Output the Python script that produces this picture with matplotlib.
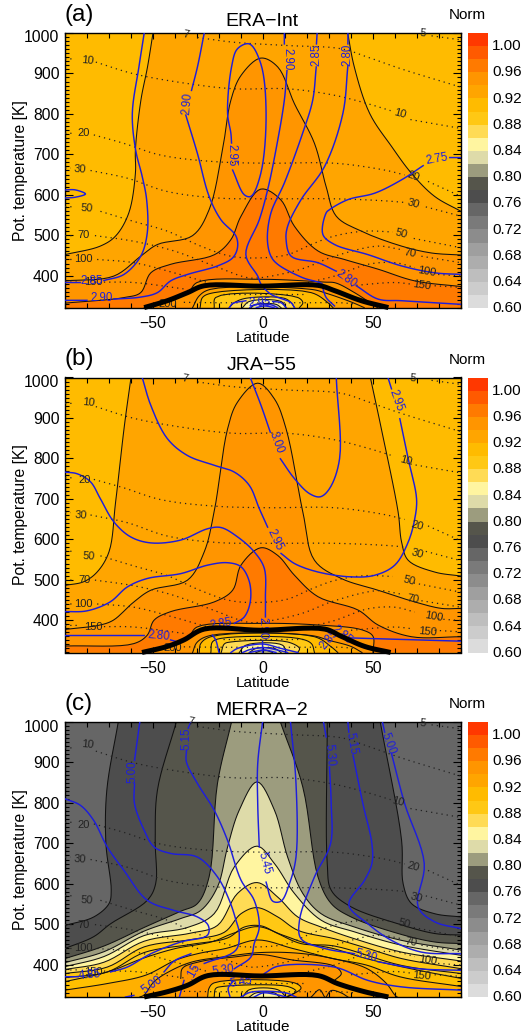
import numpy as np
import matplotlib
matplotlib.use("Agg")
import matplotlib.pyplot as plt
from matplotlib.colors import ListedColormap, BoundaryNorm
from matplotlib.ticker import MultipleLocator, FixedLocator
from matplotlib.transforms import ScaledTranslation

plt.rcParams['font.family'] = ['Liberation Sans', 'DejaVu Sans']
n = np.nan

# ---------- colour scale ----------
NORM_EDGES = [0.60 + 0.02 * i for i in range(22)]
NORM_COLORS = ['#DCDCDC', '#CCCCCC', '#BEBEBE', '#ADADAD', '#9F9F9F', '#8C8C8C', '#7A7A7A',
               '#666666', '#4D4D4D', '#55554B', '#9C9C7E', '#DEDBA9', '#FFF5A0', '#FFDB55',
               '#FFC814', '#FFBB00', '#FFA500', '#FF9500', '#FF7A00', '#FF5A00', '#FF3800']
NORM_TICKS = [0.60, 0.64, 0.68, 0.72, 0.76, 0.80, 0.84, 0.88, 0.92, 0.96, 1.00]
cmap = ListedColormap(NORM_COLORS)
norm = BoundaryNorm(NORM_EDGES, cmap.N)
def col(v):
    return v if isinstance(v, str) else cmap(norm(v + 0.001))

def smooth(lat, th):
    """Draw a read-off contour as a centripetal Catmull-Rom curve through its points (NaN = gap)."""
    lat = np.asarray(lat, float); th = np.asarray(th, float)
    out_x, out_y = [], []
    idx = np.where(np.isnan(lat))[0]
    for seg in np.split(np.arange(len(lat)), idx):
        seg = seg[~np.isnan(lat[seg])]
        if len(seg) == 0:
            continue
        P = np.c_[lat[seg] * 2.2, th[seg] * 0.405]
        if len(P) < 3:
            xs, ys = lat[seg], th[seg]
        else:
            Q = np.vstack([2 * P[0] - P[1], P, 2 * P[-1] - P[-2]])
            cx, cy = [P[0, 0]], [P[0, 1]]
            for i in range(1, len(Q) - 2):
                p0, p1, p2, p3 = Q[i - 1], Q[i], Q[i + 1], Q[i + 2]
                t0 = 0.0
                t1 = t0 + max(np.hypot(*(p1 - p0)) ** 0.5, 1e-3)
                t2 = t1 + max(np.hypot(*(p2 - p1)) ** 0.5, 1e-3)
                t3 = t2 + max(np.hypot(*(p3 - p2)) ** 0.5, 1e-3)
                for t in np.linspace(t1, t2, 9)[1:]:
                    a1 = (t1 - t) / (t1 - t0) * p0 + (t - t0) / (t1 - t0) * p1
                    a2 = (t2 - t) / (t2 - t1) * p1 + (t - t1) / (t2 - t1) * p2
                    a3 = (t3 - t) / (t3 - t2) * p2 + (t - t2) / (t3 - t2) * p3
                    b1 = (t2 - t) / (t2 - t0) * a1 + (t - t0) / (t2 - t0) * a2
                    b2 = (t3 - t) / (t3 - t1) * a2 + (t - t1) / (t3 - t1) * a3
                    c = (t2 - t) / (t2 - t1) * b1 + (t - t1) / (t2 - t1) * b2
                    cx.append(c[0]); cy.append(c[1])
            xs, ys = np.array(cx) / 2.2, np.array(cy) / 0.405
        out_x += list(xs) + [n]
        out_y += list(ys) + [n]
    return np.array(out_x[:-1]), np.array(out_y[:-1])

def split_at_top(lat, th):
    """A contour that leaves through the top of the axes has two separate arms."""
    la, te = [], []
    for i, (x, y) in enumerate(zip(lat, th)):
        if i and y == 1000 and th[i - 1] == 1000:
            la.append(n); te.append(n)
        la.append(x); te.append(y)
    return la, te

# ---------- shared pressure (dotted) contours: (lat, theta) ----------
P5 = ([76.6, 90], [993, 983])
P7 = ([-29.8, -13, 11.2, 35.6, 47.7, 63, 90], [989, 977, 969, 961, 940, 911, 866])
P10 = ([-90, -87, n, -76, -58.7, -34.3, -13, 11.2, 32.5, 47.7, 58, n, 67, 69, 90],
       [936, 936, n, 928, 899, 875, 862, 862, 846, 825, 808, n, 786, 784, 764])
P20 = ([-90, -87, n, -76.9, -63.2, -46.5, -22.2, 2, 32.5, 55.3, 64.4, n, 75, 90],
       [752, 752, n, 748, 727, 698, 682, 678, 678, 661, 649, n, 633, 596])
P30 = ([-90, -87.5, n, -78.4, -61.7, -43.5, -20.7, 2.1, 32.5, 55.3, 64.4, n, 74, 90],
       [666, 666, n, 660, 641, 608, 592, 590, 590, 585, 581, n, 570, 547])
P50 = ([-90, -86, n, -73.9, -58.7, -43.5, -28.3, -14.6, -1, 11.2, 21.9, 32.5, 46.2, 59, n, 68.5, 90],
       [571, 570, n, 559, 534, 510, 473, 448, 444, 452, 477, 498, 510, 508, n, 492, 469])
P70 = ([-90, -87, n, -76.4, -58.7, -40.4, -22.2, -7, -1, 17.3, 32.5, 52.3, 62.2, n, 72, 90],
       [499, 499, n, 499, 485, 461, 424, 395, 395, 416, 448, 473, 465, n, 448, 432])
P100 = ([-90, -87, n, -75.4, -58.7, -40.4, -25.2, n, 20.4, 32.5, 47.7, 59.9, 69, n, 79.6, 90],
        [440, 440, n, 440, 432, 407, 383, n, 383, 399, 428, 432, 420, n, 403, 399])
P150 = ([-90, -83, n, -72.3, -58.7, -34.3, n, 40, 59.9, 67.5, n, 78, 90],
        [387, 387, n, 384, 383, 366, n, 375, 383, 379, n, 375, 371])
P200 = ([-36, -20, 20, 35, 42], [334, 333, 333, 333, 330])
P_TROP = ([-18, 20], [354, 354])
PRESSURE_LINES = [P5, P7, P10, P20, P30, P50, P70, P100, P150, P200, P_TROP]

# ---------- thick tropopause ----------
A_TROP = ([-54, -43.5, -34.3, -26.7, -1, 25, 32.5, 44.7, 57], [321, 338, 358, 375, 374, 376, 363, 338, 321])
B_TROP = ([-55, -43.5, -36, -26.7, -1, 28, 35.6, 46.2, 58], [320, 335, 351, 378, 375, 378, 360, 335, 320])
C_TROP = ([-54, -43.5, -34.3, -25, -1, 25, 34, 46.2, 57], [320, 333, 349, 373, 372, 373, 353, 333, 320])

# ---------- panel (a) Norm contours: (level of colour inside, lat, theta) ----------
A_N92 = (0.92, [-90, -74, -67, -61, -58, -58, -55.5, -52.5, -50, 38.5, 41.5, 48.5, 58.5, 67.5, 78, 90],
         [452, 473, 498, 555, 653, 711, 834, 916, 1000, 1000, 916, 801, 719, 653, 596, 559])
A_N94 = (0.94, [-90, -67.8, -55.6, -48, -32, -24.5, -18.4, -14.6, -10, -1, 6.7, 14.3, 23.4, 28.7, 33.3, 44.7, 63, 76.6, 90],
         [387, 399, 448, 477, 499, 563, 711, 834, 895, 938, 916, 825, 727, 620, 547, 510, 473, 456, 451])
A_N96 = (0.96, [-90, -63, -55.6, -51, -42, -22, -14.6, -10, -1, 8, 14.3, 25, 37, 52.3, 69, 90],
         [332, 346, 358, 407, 428, 452, 489, 547, 614, 588, 522, 461, 440, 416, 387, 373])
A_ARCH = (0.94, [-54, -43, -34, -30, -1, 28, 33, 41.6, 52], [321, 338, 358, 383, 391, 384, 382, 358, 321])
A_T92 = (0.92, [-32, -29, -24, 22, 29, 40, 46], [321, 350, 366, 366, 356, 335, 321])
A_T90 = (0.90, [-28.6, -27.5, -22.2, 21.9, 29.5, 31.8], [321, 346, 358, 358, 333, 321])
A_T88 = (0.88, [-22.2, -21.5, 15.8, 18.1, 16.6], [321, 346, 346, 333, 321])
A_T86 = (0.86, [-15.3, -13.1, -7.8, 9.7, 12.8, 14.3], [321, 333, 344, 344, 333, 321])
A_T84 = (0.84, [-9.3, -6.3, 8.2, 10.5], [321, 336, 336, 321])
A_T82 = (0.82, [-5.5, -3.2, 5.9, 8.2], [321, 329, 329, 321])
A_FILLS = [A_N92, A_N94, A_N96, A_ARCH, A_T92, A_T90, A_T88, A_T86, A_T84, A_T82]

# ---------- panel (a) blue contours ----------
A_B1 = ([-54, -56.4, -59.4, -57.9, -54.9, -52.9, -52.6, -55.6, -63.2, -72.3, n, -83, -90],
        [1000, 916, 801, 711, 645, 588, 506, 448, 403, 388, n, 383, 383])
A_B2 = ([-26.7, -29.8, -32.5, n, -35.1, -29.8, -24.5, -19.1, -12.3, -11.6, -13.8, -20.7, -34.3, -42, -48, -55.6, -67.8, n, -80, -90],
        [1000, 916, 858, n, 797, 702, 596, 538, 498, 469, 444, 424, 403, 387, 358, 347, 342, n, 339, 339])
A_B3 = ([-13.8, -8.5, -5.5, -1, 1.4, -1, -6.2, -11.6, -14.3, -16.1, -14.6, -14.3],
        [661, 600, 596, 653, 801, 924, 973, 961, 916, 801, 752, 728])
A_B4 = ([9.7, 9.7, n, 10.9, 9.7, 6.7, 2.1, -1.7, -7.8, -2.4, -0.9, 3.6, 12.8, 14.3],
        [1000, 973, n, 907, 834, 735, 612, 538, 452, 399, 379, 354, 333, 321])
A_B5 = ([24.6, 24.3, n, 24.2, 22.6, 18, 9.7, 3.6, 2, 3.6, 6.7, 18, 27, 27.2, 28.7, 32.5],
        [1000, 973, n, 916, 834, 752, 629, 555, 489, 448, 428, 395, 379, 370, 346, 325])
A_B6 = ([38.6, 38.6, n, 38.6, 36.3, 28, 17.3, 11.2, 10.5, 12.8, 25, 33.3, n, 42.4, 52.3, 63, 90],
        [1000, 973, n, 920, 801, 670, 588, 522, 489, 448, 432, 411, n, 375, 342, 338, 329])
A_B7 = ([90, 84.9, n, 72.8, 63, 50.8, 38.6, 30.2, 28.7, 27.2, 32.5, 47.7, 63, 78, 90],
        [692, 692, n, 672, 637, 604, 588, 563, 555, 502, 477, 452, 424, 407, 403])
A_B8 = ([-90, -85.3, -80.7, -85.3, -90], [612, 612, 602, 594, 592])
A_B9 = ([-15.3, -13.8, -7.8, n, 4.4, 8.2, 10.5], [321, 331, 338, n, 336, 333, 321])
A_B10 = ([-6, -3.9, 3.6, 6.6], [321, 328, 328, 321])
A_B11 = ([-3, 0.6, 5], [321, 325, 321])
A_BLUE = [A_B1, A_B2, A_B3, A_B4, A_B5, A_B6, A_B7, A_B8, A_B9, A_B10, A_B11]
A_BLUE_LABELS = [('2.85', -78, 388, 0), ('2.90', -73.4, 344, 0), ('2.90', -34.3, 825, 85), ('2.95', -14.3, 698, 270),
                 ('2.90', 10.9, 936, 270), ('2.85', 24.2, 945, 90), ('2.80', 38.6, 947, 90), ('2.80', 37.8, 393, 325),
                 ('2.75', 78.9, 689, 10), ('2.95', -1.6, 333, 0)]
A_BLACK_LABELS = [('7', -35, 997, -10), ('5', 72.8, 999, -5), ('10', -79.6, 933, -5), ('10', 62.2, 801, -15),
                  ('20', -81.5, 752, 0), ('20', 68.5, 645, -20), ('30', -83.3, 664, -3), ('30', 68.5, 578, -15),
                  ('50', -80, 567, -3), ('50', 63, 503, -15), ('70', -81.5, 501, 0), ('70', 67, 456, -10),
                  ('100', -81.5, 440, 0), ('100', 74.6, 411, -10), ('150', -77, 384, 0), ('150', 72.3, 375, -8),
                  ('200', -43.5, 330, 0)]

# ---------- panel (b) ----------
B_N92 = (0.92, [-90, -81.5, -75.4, -70, -67, -63, -60, 48.8, 53.8, 61.4, 63, 66, 78, 90],
         [486, 495, 519, 569, 692, 881, 1000, 1000, 873, 668, 593, 548, 519, 509])
B_N94 = (0.94, [-90, -74, -68, -58.7, -51, -34.3, -26.7, -22.2, -16.1, -11.6, -2.4, 5.2, 10.5, 18.1, 23.4, 35.6, 52.3, 69, 81.2, 90],
         [377, 388, 400, 445, 474, 499, 569, 668, 873, 939, 986, 947, 873, 668, 548, 503, 474, 445, 429, 429])
B_N96 = (0.96, [-90, -58.7, -52.6, -49.5, -42, -22.2, -13.8, -10, -1, 6.7, 14.3, 25, 43.2, 52.3, 67.5, 90],
         [336, 342, 363, 400, 421, 445, 474, 536, 579, 560, 511, 458, 425, 388, 359, 359])
B_ARCH = (0.94, [-54, -43, -34, -30, -1, 25, 45, 50, 50], [320, 338, 358, 383, 392, 388, 376, 360, 320])
B_T92 = (0.92, [-32, -30, -24, 22, 30, 40, 45], [320, 345, 362, 362, 350, 335, 320])
B_T90 = (0.90, [-29, -28.3, -23.7, 23.4, 31, 34], [320, 342, 359, 359, 334, 320])
B_T88 = (0.88, [-23.7, -23, -19, 15.8, 22, 23.4], [320, 346, 355, 355, 342, 320])
B_T86 = (0.86, [-19, -17.6, -14.6, 11.2, 16.6, 15.8], [320, 341, 346, 346, 330, 320])
B_T84 = (0.84, [-10.8, -7.8, 8.9, 10.5], [320, 338, 338, 320])
B_T82 = (0.82, [-6.2, -3.2, 5.2, 8.2], [320, 330, 330, 320])
B_T80 = (0.80, [-3.2, 0.6, 4.4], [320, 326, 320])
B_FILLS = [B_N92, B_N94, B_N96, B_ARCH, B_T92, B_T90, B_T88, B_T86, B_T84, B_T82, B_T80]

B_B1 = ([-54.9, -51, -43.5, -34.3, -22.2, -13, -6.2, -1.7, 2.1, n, 8.2, 14.3, 25, 40, 50.8, 59.9, 66, 69, 69.8, 66, 62.2, n, 58.4, 56.8],
        [1000, 931, 849, 807, 783, 766, 733, 676, 630, n, 565, 540, 519, 507, 511, 536, 593, 651, 700, 799, 898, n, 972, 1000])
B_B2 = ([-90, -84.5, -78.4, -73.9, -67.8, -60.2, -51, -37.4, -25.2, -19.1, -11.6, -4, 0.6, 1.1, 1.1, n, -0.2, -0.2],
        [766, 762, 742, 700, 643, 606, 591, 598, 626, 629, 606, 569, 528, 454, 408, n, 347, 320])
B_B3 = ([-90, -80, -69.5, -61.7, -52.6, -37.4, -25.2, -16.1, -10, -6.2, -5.8, -8.5, -13, n, -23, -21.5, -20],
        [421, 423, 445, 482, 503, 515, 536, 542, 532, 495, 445, 408, 392, n, 363, 351, 320])
B_B4 = ([-5.8, -0.9, 3.3, n, 7.9, 14.3, 21.1, 26, 30.2, 34.8, 33.3],
        [1000, 931, 865, n, 799, 750, 713, 705, 725, 799, 1000])
B_B5 = ([-90, -54, n, -42, -38], [362, 362, n, 351, 345])
B_B6 = ([40, 90], [356, 348])
B_B7 = ([-14.6, -11.6, -0.3, 8.2, 15.8], [320, 330, 341, 330, 320])
B_B8 = ([-9.3, -5.5, 0.6, 6.6, 11.2], [320, 328, 332, 326, 320])
B_B9 = ([-6.2, 0.6, 5.9], [320, 326, 320])
B_BLUE = [B_B1, B_B2, B_B3, B_B4, B_B5, B_B6, B_B7, B_B8, B_B9]
B_BLUE_LABELS = [('2.95', 5.6, 598, 295), ('2.95', 60.3, 943, 290), ('2.90', -0.2, 380, 270), ('2.85', -19, 389, 10),
                 ('3.00', 5.9, 840, 290), ('2.80', -47.3, 361, 355), ('2.85', 36, 364, 320), ('2.85', 30, 352, 50)]
B_BLACK_LABELS = [('7', -35.4, 997, -10), ('5', 68.2, 998, -5), ('10', -79.2, 937, -5), ('10', 64.9, 795, -15),
                  ('20', -81.2, 746, 0), ('20', 70, 633, -15), ('30', -83, 658, -3), ('30', 70, 565, -15),
                  ('50', -79.2, 559, -3), ('50', 66.7, 497, -15), ('70', -81, 499, 0), ('70', 68, 453, -10),
                  ('100', -81.5, 439, 0), ('100', 77.4, 408, -10), ('150', -77, 384, 0), ('150', 75, 371, -5),
                  ('200', -41, 330, 0)]

# ---------- panel (c) ----------
C_N76 = (0.76, [-90, -76.9, -70, -69, -71.4, -71, -65.8, 53.3, 63, 63.7, 67.5, 78, 90],
         [497, 518, 551, 584, 699, 831, 1000, 1000, 707, 600, 551, 526, 518])
C_N78 = (0.78, [-90, -77, -69.3, -52.6, -48.8, -49, -48, -39.4, 29.2, 29.2, 31, 40, 61.4, 78, 90],
         [440, 469, 501, 559, 600, 707, 831, 1000, 1000, 650, 584, 543, 501, 477, 473])
C_N80 = (0.80, [-90, -72.3, -54, -37.4, -29.8, -24.5, -20.7, -14.3, 7.9, 18.1, 25, 31, 40, 61.4, 78, 90],
         [415, 446, 492, 532, 551, 617, 848, 1000, 1000, 839, 617, 551, 518, 477, 456, 452])
C_N82 = (0.82, [-90, -72.3, -54, -37.4, -28.3, -20.7, -16.1, -10.8, -2.7, 5.2, 11.2, 18.1, 26.4, 41.6, 63, 90],
         [405, 432, 483, 514, 534, 592, 691, 782, 852, 782, 666, 576, 526, 493, 460, 436])
C_N84 = (0.84, [-90, -72.3, -54, -34.3, -22.2, -13, -2.7, 5.2, 14.3, 26.4, 41.6, 63, 90],
         [395, 420, 472, 492, 526, 642, 693, 650, 576, 510, 481, 448, 423])
C_N86 = (0.86, [-90, -72.3, -54, -32.8, -20.7, -11.6, -2.7, 6.7, 15.8, 26.4, 41.6, 63, 90],
         [388, 406, 458, 478, 497, 576, 603, 567, 518, 493, 464, 431, 409])
C_N88 = (0.88, [-90, -70.8, -54, -32.8, -17.6, -10, -2.7, 6.7, 15.8, 32.5, 47.7, 63, 90],
         [378, 394, 444, 462, 480, 526, 541, 518, 485, 464, 440, 415, 390])
C_N89 = ('#FFCC20', [-90, -70.8, -54, -32.8, -16.1, -8.5, -0.9, 6.7, 17.3, 32.5, 63, 90],
         [368, 382, 430, 450, 466, 493, 496, 477, 452, 446, 398, 378])
C_N90 = ('#FFC000', [-90, -70, -54.9, -39.7, -22.9, -13.8, -2.4, 9, 19.6, 31.8, 47, 69.8, 90],
         [358, 383, 415, 440, 457, 477, 494, 473, 453, 440, 415, 387, 366])
C_N92 = ('#FFB000', [-90, -70, -53.3, -39.7, -29, -16.9, -2.4, 13.5, 31.8, 47, 62.2, 90],
         [337, 354, 374, 411, 428, 440, 461, 440, 415, 399, 370, 346])
C_N94 = ('#FF9F00', [-56, -54, -49.5, -41.2, -32, -16.9, -0.9, 16.6, 31.8, 47, 56, 59.9, 61],
         [320, 325, 358, 387, 407, 420, 430, 428, 415, 391, 354, 325, 320])
C_BLOB = ('#FF9500', [-37.4, -36.6, -29, -13, -0.9, 12.8, 32.5, 35.6, 32.5],
          [366, 391, 407, 419, 425, 412, 396, 378, 361])
C_T90 = (0.90, [-25.2, -24.5, -22.2, 14.3, 17.3, 11.2], [320, 342, 355, 355, 342, 320])
C_T88 = (0.88, [-22.2, -21.5, -18.4, 11.2, 15, 10.5], [320, 341, 346, 346, 334, 320])
C_T86 = (0.86, [-9.3, -6.2, 6.7, 10.5], [320, 338, 338, 320])
C_T84 = (0.84, [-6.2, -3.2, 5.2, 7.5], [320, 330, 330, 320])
C_FILLS = [C_N76, C_N78, C_N80, C_N82, C_N84, C_N86, C_N88, C_N89, C_N90, C_N92, C_N94, C_BLOB,
           C_T90, C_T88, C_T86, C_T84]
C_LOW1 = ([21.9, 25.7, 28], [320, 338, 320])
C_LOW2 = ([28.7, 31, 35.6, 38.6], [320, 336, 330, 320])
C_EXTRA_BLACK = [C_LOW1, C_LOW2]

C_B1 = ([-90, -83, -77, -70.8, -63.2, -52.6, -40.4, -29.8, -24.9, -25.2, -37.4, -51, -61.7, -69.3, n, -84, -90],
        [810, 794, 757, 691, 633, 559, 534, 518, 497, 473, 456, 427, 394, 382, n, 370, 370])
C_B2 = ([-56, -58.4, n, -58.4, -58.4, -54, -49.5, -42, -29.8, -20.7, -15.3, -12.3, -10.8, -12.3, -26.7, n, -35.9, -38],
        [1000, 905, n, 848, 798, 732, 691, 675, 666, 617, 559, 510, 477, 436, 403, n, 361, 320])
C_B3 = ([-32.8, -34, n, -34.8, -34.8, -29.8, -22.2, -16.1, -10, -4, -1.7, -4, -5.5, -13],
        [1000, 985, n, 930, 901, 848, 782, 707, 609, 559, 493, 452, 419, 390])
C_B4 = ([-0.2, -2.4, -2.4, -1.7, n, 1.4, 4.4, 8.2, 12, 15, 15, 12.5],
        [1000, 897, 798, 691, n, 604, 557, 557, 600, 666, 848, 1000])
C_B5 = ([-32.8, -40.4, -45, n, -58.7, -62.5], [427, 409, 382, n, 324, 320])
C_B6 = ([27.5, 28.7, n, 30.2, 31, 30.7, 23.4, 16.6, 17.3, 28, 41.6, n, 52.3, 70.5, 90],
        [1000, 963, n, 889, 798, 699, 617, 510, 464, 440, 427, n, 407, 390, 386])
C_B7 = ([38.6, 39, n, 40.9, 45.4, 49.5, 49.5, 46.2, 39, 47.7, 58.4, 72, 90],
        [1000, 975, n, 918, 798, 699, 650, 609, 548, 501, 460, 431, 427])
C_B8 = ([54.3, 55.3, n, 58.4, 64.4, 73.3, 70.5, 78, 90], [1000, 975, n, 922, 798, 650, 543, 506, 489])
C_B9 = ([0.6, 6.7, 32.5, 47.7, 63, 90], [378, 396, 394, 361, 345, 337])
C_B10 = ([-13.6, -15.8, -15], [359, 342, 320])
C_B11 = ([-10, -5.5, 10.5, 15], [320, 332, 330, 320])
C_B12 = ([-4, 0, 6, 10.5], [320, 330, 326, 320])
C_BLUE = [C_B1, C_B2, C_B3, C_B4, C_B5, C_B6, C_B7, C_B8, C_B9, C_B10, C_B11, C_B12]
C_BLUE_LABELS = [('4.85', -78.7, 375, 5), ('5.00', -59.4, 876, 90), ('5.15', -35, 959, 90), ('5.45', 0.6, 651, 285),
                 ('5.30', 30, 918, 275), ('5.30', 46.7, 421, 345), ('5.15', 40, 946, 280), ('5.00', 56.8, 946, 290),
                 ('5.00', -50.3, 349, 35), ('.15', -31.6, 382, 60), ('5.30', -18, 386, 8), ('5.45', -10, 358, 10)]
C_BLACK_LABELS = [('7', -32.8, 1000, -10), ('5', 72.8, 998, -5), ('10', -79.6, 945, -5), ('10', 61.4, 804, -15),
                  ('20', -81.5, 746, 0), ('20', 68.2, 642, -15), ('30', -83.3, 660, -3), ('30', 69.5, 566, -15),
                  ('50', -80, 559, -3), ('50', 64, 501, -15), ('70', -81.5, 499, 0), ('70', 67.2, 456, -10),
                  ('100', -81.5, 440, 0), ('100', 75, 411, -8), ('150', -77, 382, 0), ('150', 72.3, 372, -5)]

PANELS = [('(a)', 'ERA\u2212Int', 33, A_FILLS, [], A_BLUE, A_BLUE_LABELS, A_BLACK_LABELS, A_TROP, 0.90),
          ('(b)', 'JRA\u221255', 377.5, B_FILLS, [], B_BLUE, B_BLUE_LABELS, B_BLACK_LABELS, B_TROP, 0.90),
          ('(c)', 'MERRA\u22122', 722, C_FILLS, C_EXTRA_BLACK, C_BLUE, C_BLUE_LABELS, C_BLACK_LABELS, C_TROP, 0.74)]
BLUE = '#1E1EDC'

W, H = 523, 1034
fig = plt.figure(figsize=(W / 100, H / 100), dpi=100)

for tag, title, top, fills, extra, blues, blab, klab, trop, bg in PANELS:
    ax = fig.add_axes([65 / W, 1 - (top + 275) / H, 396 / W, 275 / H])
    ax.set_xlim(-90, 90)
    ax.set_ylim(320, 1000)
    ax.set_facecolor(col(bg))
    for lev, lat, th in fills:
        sx, sy = smooth(*split_at_top(lat, th))
        keep = ~np.isnan(sx)
        fx, fy = sx[keep], sy[keep]
        if th[0] != th[-1]:
            ax.fill(np.r_[fx, fx[-1], fx[0]], np.r_[fy, 320, 320], color=col(lev), lw=0, zorder=1)
        else:
            ax.fill(fx, fy, color=col(lev), lw=0, zorder=1)
        ax.plot(sx, sy, color='#111111', lw=0.75, zorder=2)
    for lat, th in extra:
        ax.plot(*smooth(lat, th), color='#111111', lw=0.75, zorder=2)
    for lat, th in PRESSURE_LINES:
        ax.plot(*smooth(lat, th), color='#222222', lw=0.9, ls=(0, (1, 3.2)), zorder=3)
    for lat, th in blues:
        ax.plot(*smooth(lat, th), color=BLUE, lw=1.05, zorder=4)
    for s, lat, th, rot in klab:
        ax.text(lat, th, s, fontsize=8, color='#222222', rotation=rot, ha='center', va='center',
                rotation_mode='anchor', zorder=5)
    for s, lat, th, rot in blab:
        ax.text(lat, th, s, fontsize=8.3, color=BLUE, rotation=rot, ha='center', va='center',
                rotation_mode='anchor', zorder=5)
    tx, ty = smooth(*trop)
    ax.plot(tx, ty, color='black', lw=3.6, zorder=6, clip_on=False, solid_capstyle='butt',
            solid_joinstyle='round')

    ax.xaxis.set_major_locator(FixedLocator([-50, 0, 50]))
    ax.xaxis.set_minor_locator(MultipleLocator(10))
    ax.yaxis.set_major_locator(MultipleLocator(100))
    ax.yaxis.set_minor_locator(MultipleLocator(10))
    ax.tick_params(axis='x', which='major', direction='in', top=True, length=4, width=0.8, pad=6, labelsize=11.3)
    ax.tick_params(axis='x', which='minor', direction='in', top=True, length=3.5, width=0.8)
    ax.tick_params(axis='y', which='major', direction='in', right=True, length=6, width=0.8, pad=4, labelsize=11.3)
    ax.tick_params(axis='y', which='minor', direction='in', right=True, length=3, width=0.8)
    for s in ax.spines.values():
        s.set_linewidth(1.0)
    fig.canvas.draw()
    for lbl in ax.get_yticklabels():
        if lbl.get_text() == '1000':
            lbl.set_transform(lbl.get_transform() + ScaledTranslation(0, -0.035, fig.dpi_scale_trans))
    ax.set_xlabel('Latitude', fontsize=11, labelpad=0)
    ax.set_ylabel('Pot. temperature [K]', fontsize=11.3)
    ax.yaxis.set_label_coords((28 - 65) / 396, 0.5)

    fig.text(79 / W, 1 - (top - 18) / H, tag, fontsize=17.5, ha='center', va='center')
    fig.text(262 / W, 1 - (top - 11.5) / H, title, fontsize=14, ha='center', va='center')
    fig.text(467 / W, 1 - (top - 18) / H, 'Norm', fontsize=11, ha='center', va='center')

    cax = fig.add_axes([468 / W, 1 - (top + 275) / H, 20 / W, 275 / H])
    cax.pcolormesh([0, 1], NORM_EDGES, np.array(NORM_EDGES[:-1]).reshape(-1, 1) + 0.001, cmap=cmap, norm=norm)
    cax.set_xticks([])
    cax.yaxis.tick_right()
    cax.set_yticks(NORM_TICKS)
    cax.set_yticklabels(['%.2f' % v for v in NORM_TICKS], fontsize=11)
    cax.tick_params(axis='y', length=0, pad=3)
    for lbl in cax.get_yticklabels():
        lbl.set_transform(lbl.get_transform() + ScaledTranslation(0, 1.3 / 100, fig.dpi_scale_trans))
    for s in cax.spines.values():
        s.set_visible(False)

fig.savefig('out.png', dpi=100)
